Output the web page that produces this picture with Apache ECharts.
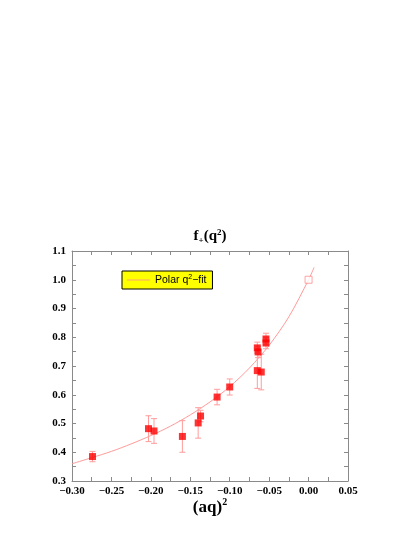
<!DOCTYPE html>
<html>
<head>
<meta charset="utf-8">
<script src="https://cdn.jsdelivr.net/npm/echarts@6/dist/echarts.min.js"></script>
<style>
  html, body { margin: 0; padding: 0; background: #fff; }
  #chart { width: 420px; height: 543px; }
</style>
</head>
<body>
<div id="chart"></div>
<script>
// lattice points (aq)^2, f+ and error
var qsq    = [-0.274, -0.203, -0.196, -0.160, -0.140, -0.137, -0.116, -0.100, -0.065, -0.064, -0.065, -0.060, -0.054, -0.054];
var fplus  = [0.385, 0.482, 0.474, 0.455, 0.502, 0.526, 0.592, 0.627, 0.763, 0.749, 0.684, 0.679, 0.794, 0.780];
var fErr   = [0.018, 0.045, 0.043, 0.055, 0.053, 0.020, 0.027, 0.028, 0.020, 0.020, 0.062, 0.062, 0.020, 0.020];
// normalisation point (open square)
var normX = [0.0];
var normY = [1.0];
// polar fit curve
var fitX = [-0.30, -0.275, -0.25, -0.225, -0.20, -0.175, -0.15, -0.125, -0.10, -0.075, -0.05, -0.025, 0.0, 0.007];
var fitY = [0.360, 0.381, 0.403, 0.429, 0.458, 0.491, 0.530, 0.575, 0.628, 0.693, 0.772, 0.871, 1.0, 1.043];

var serif = 'Liberation Serif';
var frame = '#8a8a8a';

var pts = [], errs = [];
for (var i = 0; i < qsq.length; i++) {
    pts.push([qsq[i], fplus[i]]);
    errs.push([qsq[i], fplus[i] - fErr[i], fplus[i] + fErr[i]]);
}
var fit = fitX.map(function (x, i) { return [x, fitY[i]]; });
var norm = normX.map(function (x, i) { return [x, normY[i]]; });

function xLabel(v) {
    var s = Math.abs(v).toFixed(2);
    return v < -1e-9 ? '\u2212' + s : s;
}

var chart = echarts.init(document.getElementById('chart'), null, {renderer: 'canvas'});

var baseAxis = {
    axisLine: {show: true, onZero: false, lineStyle: {color: frame, width: 1}},
    axisTick: {show: true, inside: true, length: 4, lineStyle: {color: frame}},
    minorTick: {show: true, splitNumber: 2, length: 4, lineStyle: {color: frame}},
    splitLine: {show: false},
    minorSplitLine: {show: false}
};

var option = {
    animation: false,
    backgroundColor: '#fff',
    title: {
        text: '{b|f}{s|+}{b|(q}{p|2}{b|)}',
        left: 'center',
        top: 223,
        textStyle: {
            rich: {
                b: {fontFamily: serif, fontWeight: 'bold', fontSize: 15, color: '#000'},
                s: {fontFamily: serif, fontWeight: 'bold', fontSize: 9, color: '#000', verticalAlign: 'bottom', padding: [8, 0, 0, 0]},
                p: {fontFamily: serif, fontWeight: 'bold', fontSize: 9, color: '#000', verticalAlign: 'top', padding: [0, 0, 8, 0]}
            }
        }
    },
    legend: {
        data: [{name: 'fit', icon: 'rect'}],
        left: 122,
        top: 271,
        orient: 'horizontal',
        backgroundColor: '#ffff00',
        borderColor: '#000',
        borderWidth: 1,
        borderRadius: 0,
        padding: [3, 6, 3, 5],
        itemWidth: 23,
        itemHeight: 1,
        itemGap: 0,
        itemStyle: {color: '#ffa07a'},
        formatter: function () { return 'Polar q{p|2}\u2212fit'; },
        textStyle: {
            fontFamily: 'Liberation Sans',
            fontSize: 10.5,
            color: '#000',
            lineHeight: 12,
            rich: {
                p: {fontFamily: 'Liberation Sans', fontSize: 7, color: '#000', verticalAlign: 'top', padding: [0, 0, 6, 0]}
            }
        }
    },
    grid: {left: 72, right: 72, top: 251, bottom: 62},
    xAxis: [
        Object.assign({}, baseAxis, {
            type: 'value', position: 'bottom', min: -0.30, max: 0.05, interval: 0.05,
            axisLabel: {formatter: xLabel, margin: 5, fontFamily: serif, fontWeight: 'bold', fontSize: 11, color: '#000'},
            name: '{b|(aq)}{p|2}',
            nameLocation: 'middle',
            nameGap: 14,
            nameTextStyle: {
                rich: {
                    b: {fontFamily: serif, fontWeight: 'bold', fontSize: 17, color: '#000'},
                    p: {fontFamily: serif, fontWeight: 'bold', fontSize: 10, color: '#000', verticalAlign: 'top', padding: [0, 0, 10, 0]}
                }
            }
        }),
        Object.assign({}, baseAxis, {
            type: 'value', position: 'top', min: -0.30, max: 0.05, interval: 0.05,
            axisLabel: {show: false}
        })
    ],
    yAxis: [
        Object.assign({}, baseAxis, {
            type: 'value', position: 'left', min: 0.3, max: 1.1, interval: 0.1,
            axisLabel: {formatter: function (v) { return v.toFixed(1); }, margin: 6,
                fontFamily: serif, fontWeight: 'bold', fontSize: 11, color: '#000'}
        }),
        Object.assign({}, baseAxis, {
            type: 'value', position: 'right', min: 0.3, max: 1.1, interval: 0.1,
            axisLabel: {show: false}
        })
    ],
    series: [
        {
            name: 'fit',
            type: 'line',
            data: fit,
            smooth: 0.3,
            symbol: 'none',
            showSymbol: false,
            lineStyle: {color: '#ff9a9a', width: 1},
            itemStyle: {color: '#ff9a9a'},
            z: 2
        },
        {
            name: 'err',
            type: 'custom',
            data: errs,
            z: 3,
            renderItem: function (params, api) {
                var x = api.value(0);
                var lo = api.coord([x, api.value(1)]);
                var hi = api.coord([x, api.value(2)]);
                var w = 3;
                var st = {stroke: '#ff9c9c', lineWidth: 1};
                return {
                    type: 'group',
                    children: [
                        {type: 'line', shape: {x1: lo[0], y1: lo[1], x2: hi[0], y2: hi[1]}, style: st},
                        {type: 'line', shape: {x1: lo[0] - w, y1: lo[1], x2: lo[0] + w, y2: lo[1]}, style: st},
                        {type: 'line', shape: {x1: hi[0] - w, y1: hi[1], x2: hi[0] + w, y2: hi[1]}, style: st}
                    ]
                };
            }
        },
        {
            name: 'data',
            type: 'scatter',
            data: pts,
            symbol: 'rect',
            symbolSize: 7,
            itemStyle: {color: '#ff0000'},
            z: 4
        },
        {
            name: 'norm',
            type: 'scatter',
            data: norm,
            symbol: 'rect',
            symbolSize: 7,
            itemStyle: {color: '#ffffff', borderColor: '#ff8c8c', borderWidth: 1},
            z: 4
        }
    ]
};

chart.setOption(option);
</script>
</body>
</html>
